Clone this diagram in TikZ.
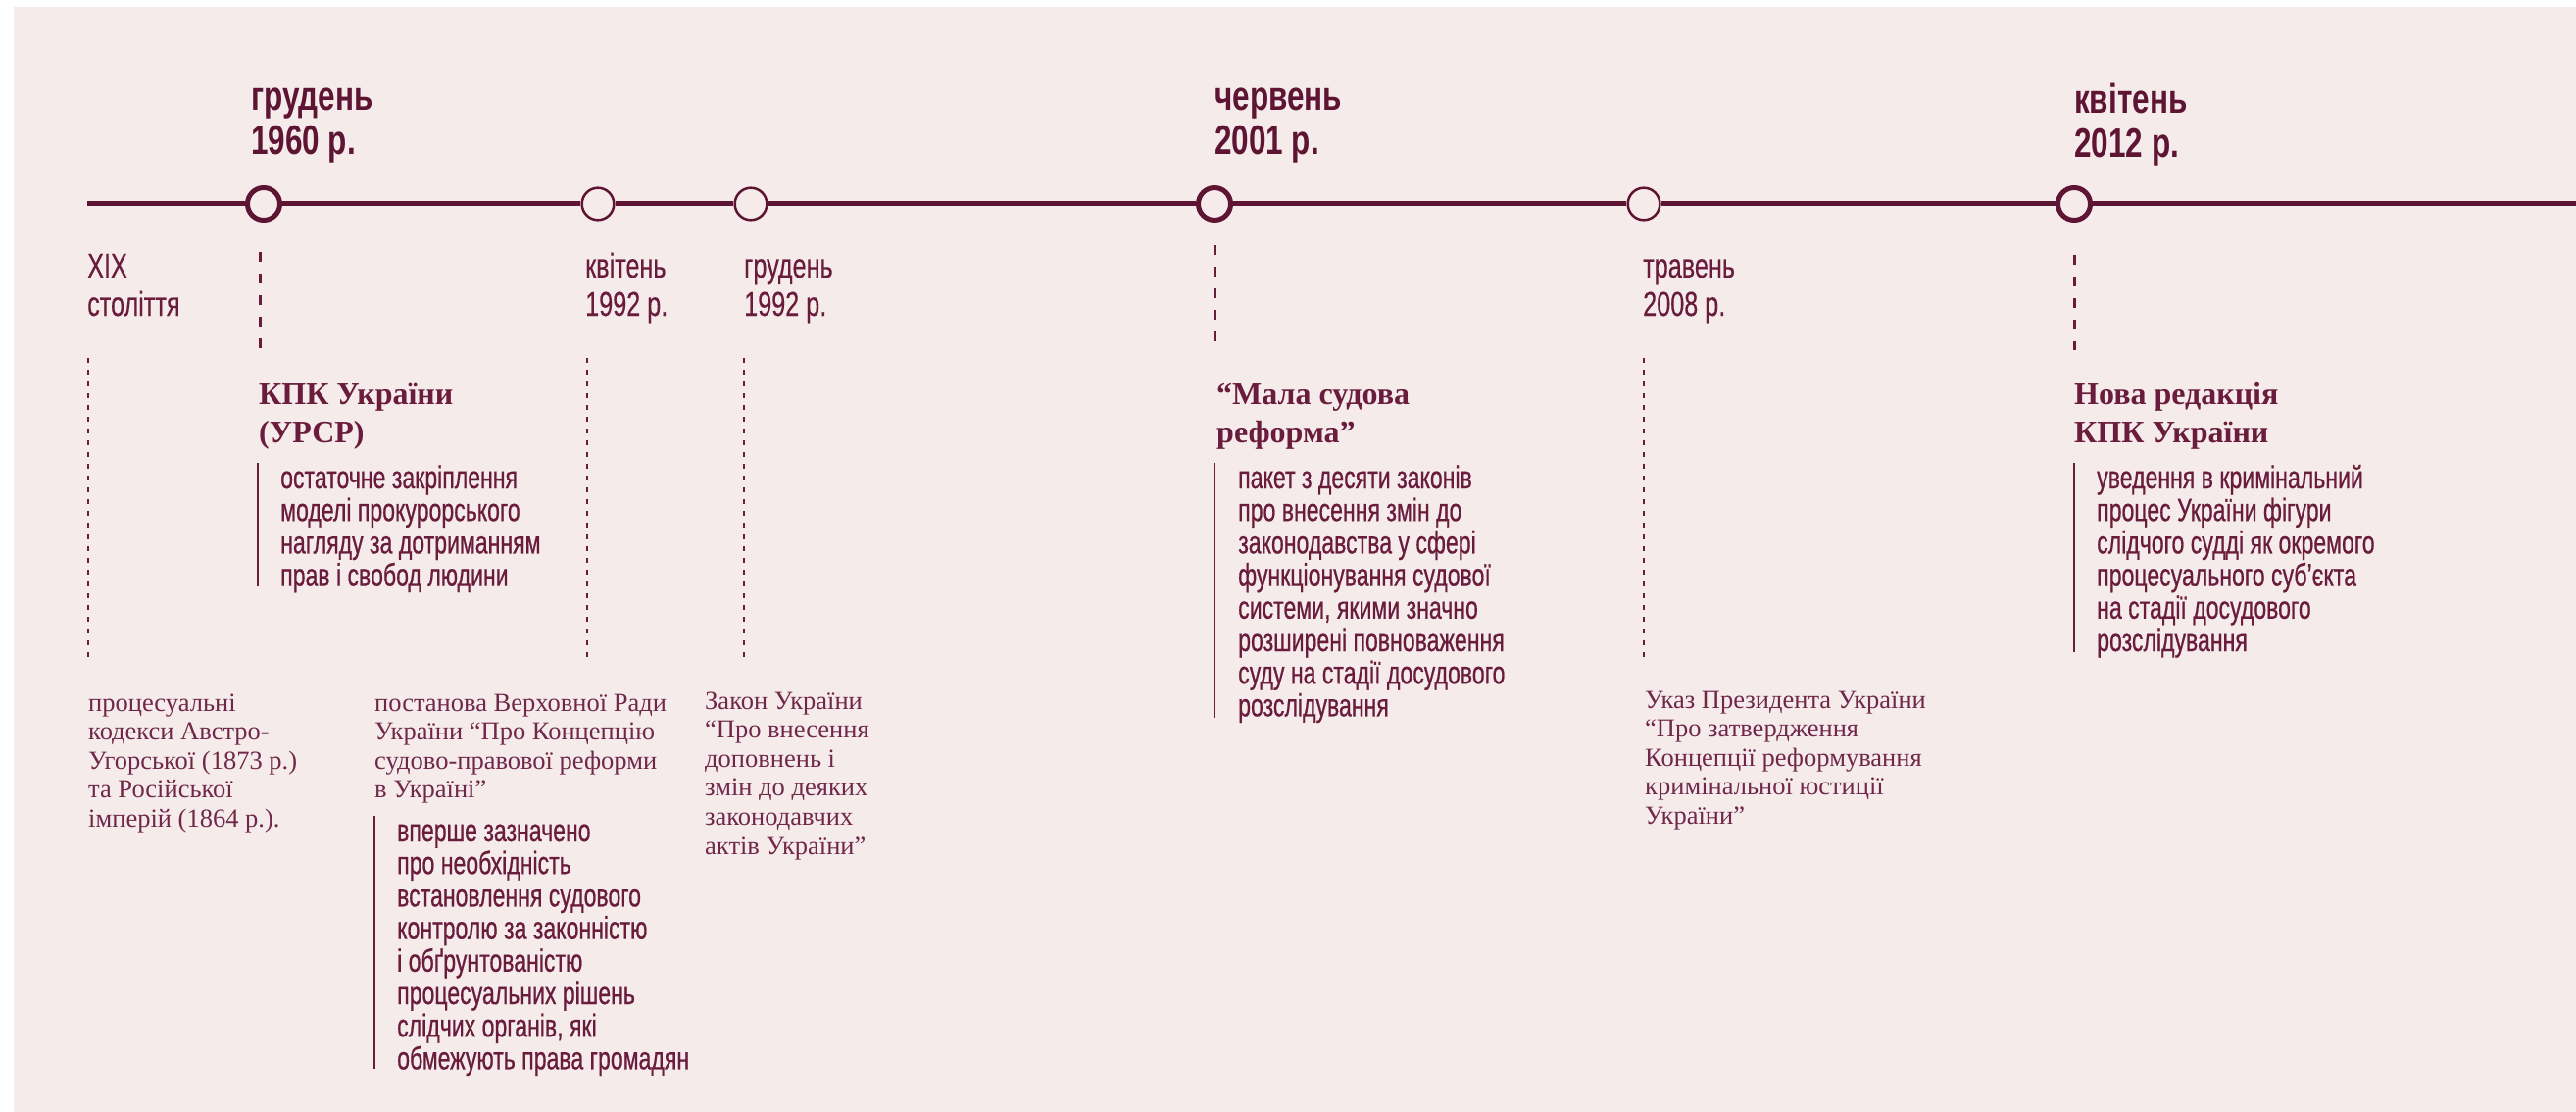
\documentclass[tikz,border=0pt]{standalone}
\usepackage{fontspec}
\newfontfamily\headf[FakeStretch=0.75]{Liberation Sans}
\newfontfamily\bodyf[FakeStretch=0.71,FakeBold=0.6]{Liberation Sans}
\newfontfamily\datef[FakeStretch=0.72,FakeBold=0.3]{Liberation Sans}
\newfontfamily\serf{Liberation Serif}
\definecolor{bg}{HTML}{F5EBEB}
\definecolor{maroon}{HTML}{5E1533}
\definecolor{txt}{HTML}{6A1C3C}
\definecolor{sertxt}{HTML}{70284A}
% note: multi-line nodes are anchored at the baseline of their LAST line
\tikzset{
  heading/.style={anchor=base west, inner sep=0pt, align=left, text=maroon,
    font=\headf\bfseries\fontsize{42}{45}\selectfont},
  datelbl/.style={anchor=base west, inner sep=0pt, align=left, text=txt,
    font=\datef\fontsize{35}{39}\selectfont},
  sertitle/.style={anchor=base west, inner sep=0pt, align=left, text=txt,
    font=\serf\bfseries\fontsize{32}{39}\selectfont},
  bodytxt/.style={anchor=base west, inner sep=0pt, align=left, text=txt,
    font=\bodyf\fontsize{32.5}{33.2}\selectfont},
  sertxtst/.style={anchor=base west, inner sep=0pt, align=left, text=sertxt,
    font=\serf\fontsize{26.5}{29.6}\selectfont},
  bigdot/.style={circle, draw=maroon, line width=5pt, fill=bg, minimum size=33pt, inner sep=0pt},
  smalldot/.style={circle, draw=maroon, line width=2.5pt, fill=bg, minimum size=32.6pt, inner sep=0pt},
  mainline/.style={draw=maroon, line width=5pt},
  thindash/.style={draw=txt, line width=1.5pt, dash pattern=on 5pt off 7pt},
  thickdash/.style={draw=txt, line width=3pt, dash pattern=on 10pt off 12pt},
  sidebar/.style={draw=txt, line width=2.7pt}
}
\begin{document}
\begin{tikzpicture}[x=1pt,y=-1pt]
\useasboundingbox (0,0) rectangle (2628,1134);
\fill[white] (0,0) rectangle (2628,1134);
\fill[bg] (14,7) rectangle (2628,1134);

% timeline
\coordinate (tstart) at (89,208);
\coordinate (tend) at (2628,208);
\node[bigdot] (c1960) at (269,208) {};
\node[smalldot] (c1992a) at (610,208) {};
\node[smalldot] (c1992d) at (766,208) {};
\node[bigdot] (c2001) at (1239,208) {};
\node[smalldot] (c2008) at (1677,208) {};
\node[bigdot] (c2012) at (2116,208) {};
\draw[mainline] (tstart) -- (c1960) -- (c1992a) -- (c1992d) -- (c2001) -- (c2008) -- (c2012) -- (tend);

% headings (last-line baselines)
\node[heading] (h1960) at (256,158) {грудень\\1960 р.};
\node[heading] (h2001) at (1239,158) {червень\\2001 р.};
\node[heading] (h2012) at (2116,161) {квітень\\2012 р.};

% date labels
\node[datelbl] (dXIX) at (89,322) {XIX\\століття};
\node[datelbl] (d1992a) at (597,322) {квітень\\1992 р.};
\node[datelbl] (d1992d) at (759,322) {грудень\\1992 р.};
\node[datelbl] (d2008) at (1676,322) {травень\\2008 р.};

% thick dashed
\coordinate (k1a) at (265,257); \coordinate (k1b) at (265,355);
\coordinate (k2a) at (1239,250); \coordinate (k2b) at (1239,350);
\coordinate (k3a) at (2116,260); \coordinate (k3b) at (2116,357);
\draw[thickdash] (k1a) -- (k1b);
\draw[thickdash] (k2a) -- (k2b);
\draw[thickdash] (k3a) -- (k3b);

% thin dashed
\coordinate (t1a) at (90,365); \coordinate (t1b) at (90,673);
\coordinate (t2a) at (599,365); \coordinate (t2b) at (599,673);
\coordinate (t3a) at (759,365); \coordinate (t3b) at (759,673);
\coordinate (t4a) at (1677,365); \coordinate (t4b) at (1677,673);
\draw[thindash] (t1a) -- (t1b);
\draw[thindash] (t2a) -- (t2b);
\draw[thindash] (t3a) -- (t3b);
\draw[thindash] (t4a) -- (t4b);

% serif titles
\node[sertitle] (s1960) at (264,451) {КПК України\\(УРСР)};
\node[sertitle] (s2001) at (1241,451) {“Мала судова\\реформа”};
\node[sertitle] (s2012) at (2116,451) {Нова редакція\\КПК України};

% side bars
\coordinate (b1a) at (263,472); \coordinate (b1b) at (263,598);
\coordinate (b2a) at (382,832); \coordinate (b2b) at (382,1090);
\coordinate (b3a) at (1239,472); \coordinate (b3b) at (1239,732);
\coordinate (b4a) at (2116,472); \coordinate (b4b) at (2116,665);
\draw[sidebar] (b1a) -- (b1b);
\draw[sidebar] (b2a) -- (b2b);
\draw[sidebar] (b3a) -- (b3b);
\draw[sidebar] (b4a) -- (b4b);

% body texts
\node[bodytxt] (t1960) at (286,597.6) {остаточне закріплення\\моделі прокурорського\\нагляду за дотриманням\\прав і свобод людини};
\node[bodytxt] (t1992) at (405,1090.4) {вперше зазначено\\про необхідність\\встановлення судового\\контролю за законністю\\і обґрунтованістю\\процесуальних рішень\\слідчих органів, які\\обмежують права громадян};
\node[bodytxt] (t2001) at (1263,730.4) {пакет з десяти законів\\про внесення змін до\\законодавства у сфері\\функціонування судової\\системи, якими значно\\розширені повноваження\\суду на стадії досудового\\розслідування};
\node[bodytxt] (t2012) at (2139,664) {уведення в кримінальний\\процес України фігури\\слідчого судді як окремого\\процесуального суб’єкта\\на стадії досудового\\розслідування};

% serif small texts
\node[sertxtst] (pXIX) at (90,843.4) {процесуальні\\кодекси Австро-\\Угорської (1873 р.)\\та Російської\\імперій (1864 р.).};
\node[sertxtst] (p1992a) at (382,813.8) {постанова Верховної Ради\\України “Про Концепцію\\судово-правової реформи\\в Україні”};
\node[sertxtst] (p1992d) at (719,871) {Закон України\\“Про внесення\\доповнень і\\змін до деяких\\законодавчих\\актів України”};
\node[sertxtst] (p2008) at (1678,840.4) {Указ Президента України\\“Про затвердження\\Концепції реформування\\кримінальної юстиції\\України”};
\end{tikzpicture}
\end{document}
